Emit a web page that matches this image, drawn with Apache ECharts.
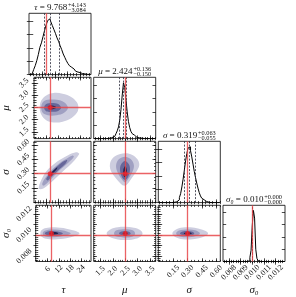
<!DOCTYPE html>
<html><head><meta charset="utf-8">
<script src="https://cdn.jsdelivr.net/npm/echarts@6/dist/echarts.min.js"></script>
<style>html,body{margin:0;padding:0;background:#fff}#c{width:296px;height:297px}</style>
</head><body><div id="c"></div>
<script>
// ---------------- data ----------------
const tauRange = [-0.5, 29.4];
const muRange = [1.23, 3.73];
const sigRange = [-0.007, 0.643];
const sig0Range = [0.0075, 0.0128];

const tauTicks = [6, 12, 18, 24];
const muTicks = [1.5, 2.0, 2.5, 3.0, 3.5];
const sigTicks = [0.15, 0.30, 0.45, 0.60];
const sig0Ticks = [0.008, 0.009, 0.010, 0.011, 0.012];
const tauTickLabels = ['6', '12', '18', '24'];
const muTickLabels = ['1.5', '2.0', '2.5', '3.0', '3.5'];
const sigTickLabels = ['0.15', '0.30', '0.45', '0.60'];
const sig0TickLabels = ['0.008', '0.009', '0.010', '0.011', '0.012'];
const minorSteps = [1.5, 0.1, 0.0375, 0.0002];

const truths = [8.0, 2.5, 0.30, 0.01015];

const titleSymbols = ['τ', 'μ', 'σ', 'σ₀'];
const titleMedians = ['9.768', '2.424', '0.319', '0.010'];
const titleUpper = ['+4.143', '+0.136', '+0.063', '+0.000'];
const titleLower = ['−3.084', '−0.150', '−0.055', '−0.000'];
const quantTau = [6.684, 9.768, 13.911];
const quantMu = [2.274, 2.424, 2.560];
const quantSig = [0.264, 0.319, 0.382];
const quantSig0 = [0.00995, 0.01012, 0.01028];

// histograms: first bin centre, bin width, heights
const tauHistStart = -0.125, tauHistWidth = 0.75;
const tauHist = [0, 1, 3, 9, 16, 25, 36, 49, 57, 68, 79, 89, 97, 100, 95, 88, 81, 74, 66, 60, 52, 45, 37, 31, 25, 20, 16, 13, 10, 8, 6, 4.5, 3.5, 2.5, 1.8, 1.2, 0.8, 0.5, 0.3, 0.1];
const muHistStart = 1.255, muHistWidth = 0.05;
const muHist = [0,0,0,0,0,0,0,0,0,0,0, 0.3, 0.6, 1, 1.5, 2.5, 4, 6, 9, 14, 21, 33, 52, 78, 100, 92, 70, 48, 31, 20, 13, 9, 6, 4, 3, 2, 1.4, 1, 0.6, 0.4, 0.2, 0,0,0,0,0,0,0,0,0];
const sigHistStart = -0.0005, sigHistWidth = 0.013;
const sigHist = [0,0,0,0,0,0,0,0,0,0,0,0, 0.3, 0.8, 1.5, 3, 5, 9, 16, 28, 42, 58, 75, 88, 98, 100, 93, 82, 69, 56, 45, 35, 26, 18, 12, 8, 5, 3.5, 2, 1.2, 0.6, 0.3, 0,0,0,0,0,0,0,0];
const sig0HistStart = 0.00755, sig0HistWidth = 0.0001;
const sig0Hist = [0,0,0,0,0,0,0,0,0,0, 0,0,0,0,0,0,0,0,0,0, 0, 0.3, 1.5, 8, 22, 70, 100, 85, 24, 6, 1.5, 0.4, 0,0,0,0,0,0,0,0, 0,0,0,0,0,0,0,0,0,0, 0,0,0];

// contour polygons (outer -> inner) in data units
const muTauLevels = [
  [[2.5,2.49],[3.3,2.78],[5.9,2.99],[9.8,3.09],[14.5,3.06],[19.2,2.92],[22.0,2.71],[22.8,2.49],[22.0,2.28],[19.2,2.07],[14.5,1.92],[9.8,1.89],[5.9,1.98],[3.3,2.21]],
  [[3.3,2.49],[4.1,2.71],[6.7,2.81],[11.4,2.81],[15.3,2.71],[17.3,2.49],[15.3,2.28],[11.4,2.18],[6.7,2.18],[4.1,2.28]],
  [[4.8,2.49],[5.9,2.64],[9.0,2.68],[12.2,2.64],[13.7,2.49],[12.2,2.36],[9.0,2.32],[5.9,2.35]],
  [[6.7,2.52],[8.3,2.58],[10.6,2.55],[11.1,2.49],[9.8,2.44],[7.5,2.44]]
];
const sigTauLevels = [
  [[2.0,0.154],[2.8,0.209],[5.1,0.300],[8.3,0.372],[12.9,0.444],[17.6,0.499],[21.5,0.528],[23.2,0.513],[22.3,0.480],[19.2,0.408],[15.3,0.336],[11.4,0.263],[7.5,0.191],[4.4,0.143],[2.3,0.137]],
  [[3.9,0.202],[6.7,0.289],[10.6,0.372],[15.3,0.444],[19.5,0.491],[20.4,0.480],[17.6,0.419],[12.9,0.336],[9.0,0.253],[5.9,0.191],[4.2,0.173]],
  [[5.9,0.245],[8.3,0.310],[11.4,0.372],[15.3,0.433],[16.9,0.444],[16.1,0.408],[12.2,0.336],[9.0,0.274],[6.7,0.227]],
  [[8.3,0.300],[9.8,0.336],[11.7,0.369],[11.4,0.347],[9.8,0.311],[8.8,0.289]]
];
const sigMuLevels = [
  [[2.492,0.517],[2.788,0.499],[2.988,0.455],[3.068,0.397],[2.988,0.336],[2.788,0.263],[2.588,0.191],[2.452,0.173],[2.292,0.202],[2.052,0.274],[1.892,0.354],[1.92,0.433],[2.12,0.491]],
  [[2.492,0.480],[2.72,0.455],[2.852,0.390],[2.788,0.317],[2.628,0.245],[2.492,0.208],[2.348,0.245],[2.188,0.317],[2.132,0.390],[2.252,0.455]],
  [[2.492,0.433],[2.652,0.397],[2.692,0.336],[2.612,0.263],[2.492,0.235],[2.372,0.263],[2.292,0.336],[2.332,0.397]],
  [[2.508,0.382],[2.572,0.336],[2.548,0.281],[2.48,0.263],[2.428,0.289],[2.428,0.347]]
];
const sig0TauLevels = [
  [[2.0,0.01015],[2.6,0.01045],[5.1,0.01066],[9.8,0.01072],[16.1,0.0106],[20.7,0.01039],[23.2,0.01015],[20.7,0.00991],[16.1,0.0097],[9.8,0.00958],[5.1,0.00964],[2.6,0.00985]],
  [[3.3,0.01015],[4.4,0.01039],[8.3,0.01051],[13.7,0.01045],[18.4,0.01015],[13.7,0.00988],[8.3,0.00979],[4.4,0.00988]],
  [[4.4,0.01015],[6.0,0.01033],[9.8,0.01036],[13.0,0.01027],[14.2,0.01015],[13.0,0.01003],[9.8,0.00994],[6.0,0.00997]],
  [[6.7,0.01015],[8.3,0.01027],[11.1,0.01024],[11.7,0.01015],[10.6,0.01006],[8.3,0.01003]]
];
const sig0MuLevels = [
  [[1.75,0.01015],[1.9,0.01052],[2.2,0.01072],[2.5,0.01077],[2.85,0.01069],[3.1,0.01048],[3.2,0.01015],[3.1,0.00982],[2.85,0.00961],[2.5,0.00953],[2.2,0.00958],[1.9,0.00978]],
  [[2.05,0.01015],[2.15,0.01045],[2.5,0.01055],[2.8,0.01045],[2.9,0.01015],[2.8,0.00985],[2.5,0.00975],[2.15,0.00985]],
  [[2.25,0.01015],[2.35,0.01032],[2.5,0.01038],[2.65,0.0103],[2.72,0.01015],[2.65,0.01],[2.5,0.00993],[2.35,0.01]],
  [[2.4,0.01015],[2.47,0.01025],[2.57,0.01024],[2.6,0.01015],[2.55,0.01006],[2.45,0.01006]]
];
const sig0SigLevels = [
  [[0.14,0.01015],[0.17,0.01048],[0.25,0.0107],[0.33,0.01072],[0.42,0.0106],[0.49,0.01038],[0.515,0.01015],[0.49,0.00992],[0.42,0.0097],[0.33,0.00958],[0.25,0.0096],[0.17,0.00982]],
  [[0.18,0.01015],[0.21,0.01042],[0.3,0.01052],[0.38,0.01045],[0.43,0.01015],[0.38,0.00988],[0.3,0.00978],[0.21,0.00988]],
  [[0.22,0.01015],[0.25,0.01032],[0.3,0.01037],[0.35,0.0103],[0.37,0.01015],[0.35,0.01],[0.3,0.00993],[0.25,0.01]],
  [[0.26,0.01015],[0.29,0.01025],[0.33,0.01023],[0.345,0.01015],[0.32,0.01007],[0.28,0.01006]]
];

// ---------------- assembly ----------------
const ranges = [tauRange, muRange, sigRange, sig0Range];
const ticks = [tauTicks, muTicks, sigTicks, sig0Ticks];
const tickLabels = [tauTickLabels, muTickLabels, sigTickLabels, sig0TickLabels];
const hists = [[tauHistStart, tauHistWidth, tauHist], [muHistStart, muHistWidth, muHist], [sigHistStart, sigHistWidth, sigHist], [sig0HistStart, sig0HistWidth, sig0Hist]];
const quants = [quantTau, quantMu, quantSig, quantSig0];
const levels2d = {'1,0': muTauLevels, '2,0': sigTauLevels, '2,1': sigMuLevels, '3,0': sig0TauLevels, '3,1': sig0MuLevels, '3,2': sig0SigLevels};
const names = ['τ', 'μ', 'σ', 'σ₀'];

const FONT = '"Liberation Serif", "DejaVu Serif", serif';
const COL_LEFT = [29, 93.7, 158.3, 223];
const ROW_TOP = [13.3, 77.3, 141.3, 205.3];
const PW = 62, PH = 61.3;
const xMargin = [7.5, 9.5, 10, 11];
const yMargin = [10, 10, 10.5, 11.5];
const LEVEL_COLORS = ['#cdcddf', '#a0a0c2', '#67679a', '#22224e'];
const RED = '#e8474a';
const HIST_Y = [0, 110];
const histYTicks = [0, 24, 48, 72, 96];

function minorValues(k) {
  const r = ranges[k], t = ticks[k], s = minorSteps[k], out = [];
  for (let v = t[0]; v >= r[0] - 1e-12; v -= s) out.push(v);
  for (let v = t[0] + s; v <= r[1] + 1e-12; v += s) out.push(v);
  return out;
}

const grids = [], xAxes = [], yAxes = [], series = [];
const panels = [];
for (let r = 0; r < 4; r++) for (let c = 0; c <= r; c++) panels.push({r, c});

function axisCommon(gi, pos, range, values, minor) {
  return {
    type: 'value', gridIndex: gi, position: pos, min: range[0], max: range[1],
    axisLine: {show: false}, splitLine: {show: false},
    axisTick: {show: true, inside: true, length: minor ? 1.6 : 3.2, customValues: values,
      lineStyle: {color: '#000', width: 0.7}},
    axisLabel: {show: false}
  };
}
function labelCfg(k, margin) {
  return {show: true, customValues: ticks[k], rotate: 45, align: 'center', verticalAlign: 'middle',
    margin, fontFamily: FONT, fontSize: 8, color: '#111', hideOverlap: false,
    showMinLabel: true, showMaxLabel: true, interval: 0,
    formatter: (v) => { const i = ticks[k].findIndex(t => Math.abs(t - v) < 1e-9); return i >= 0 ? tickLabels[k][i] : ''; }};
}

panels.forEach((p, gi) => {
  const {r, c} = p;
  grids.push({left: COL_LEFT[c], top: ROW_TOP[r], width: PW, height: PH, show: true,
    borderColor: '#000', borderWidth: 0.8, containLabel: false});
  const xr = ranges[c];
  const xb = axisCommon(gi, 'bottom', xr, ticks[c], false);
  if (r === 3) {
    xb.axisLabel = labelCfg(c, xMargin[c]);
    xb.name = names[c]; xb.nameLocation = 'middle'; xb.nameGap = 23.5;
    xb.nameTextStyle = {fontFamily: FONT, fontStyle: 'italic', fontSize: 11, color: '#111'};
  }
  xAxes.push(xb);
  xAxes.push(axisCommon(gi, 'bottom', xr, minorValues(c), true));
  xAxes.push(axisCommon(gi, 'top', xr, ticks[c], false));
  xAxes.push(axisCommon(gi, 'top', xr, minorValues(c), true));
  if (r === c) {
    yAxes.push(axisCommon(gi, 'left', HIST_Y, histYTicks, false));
    yAxes.push(axisCommon(gi, 'left', HIST_Y, [], true));
    yAxes.push(axisCommon(gi, 'right', HIST_Y, histYTicks, false));
    yAxes.push(axisCommon(gi, 'right', HIST_Y, [], true));
  } else {
    const yr = ranges[r];
    const yl = axisCommon(gi, 'left', yr, ticks[r], false);
    if (c === 0) {
      yl.axisLabel = labelCfg(r, yMargin[r]);
      yl.name = names[r]; yl.nameLocation = 'middle'; yl.nameGap = 22; yl.nameRotate = 90;
      yl.nameTextStyle = {fontFamily: FONT, fontStyle: 'italic', fontSize: 11, color: '#111'};
    }
    yAxes.push(yl);
    yAxes.push(axisCommon(gi, 'left', yr, minorValues(r), true));
    yAxes.push(axisCommon(gi, 'right', yr, ticks[r], false));
    yAxes.push(axisCommon(gi, 'right', yr, minorValues(r), true));
  }
  const xi = gi * 4, yi = gi * 4;
  if (r === c) {
    const [st, w, h] = hists[c];
    const data = h.map((v, i) => [st + i * w, v]);
    const ml = quants[c].map(q => ({xAxis: q, lineStyle: {color: '#2a2a3a', width: 0.8, type: [2, 1.5]}}));
    ml.push({xAxis: truths[c], lineStyle: {color: RED, width: 1.3, type: 'solid', opacity: 0.85}});
    series.push({type: 'line', xAxisIndex: xi, yAxisIndex: yi, data, step: 'middle', symbol: 'none',
      lineStyle: {color: '#000', width: 1}, silent: true, clip: true,
      markLine: {silent: true, symbol: ['none', 'none'], label: {show: false}, data: ml, animation: false}});
  } else {
    const polys = levels2d[r + ',' + c];
    series.push({type: 'custom', xAxisIndex: xi, yAxisIndex: yi, clip: true, silent: true,
      data: polys.map((pl, i) => [pl[0][0], pl[0][1], i]),
      renderItem: (params, api) => {
        const li = api.value(2);
        const pts = polys[li].map(pt => api.coord(pt));
        return {type: 'polygon', shape: {points: pts, smooth: 0.35}, style: {fill: LEVEL_COLORS[li]}};
      }});
    series.push({type: 'scatter', xAxisIndex: xi, yAxisIndex: yi, data: [[truths[c], truths[r]]],
      symbolSize: 5, itemStyle: {color: '#e8202a'}, silent: true, z: 5,
      markLine: {silent: true, symbol: ['none', 'none'], label: {show: false}, animation: false,
        lineStyle: {color: RED, width: 1.3, type: 'solid', opacity: 0.85},
        data: [{xAxis: truths[c]}, {yAxis: truths[r]}]}});
  }
});

// titles
const ctx = document.createElement('canvas').getContext('2d');
function measure(t, font) { ctx.font = font; return ctx.measureText(t).width; }
const graphics = [];
for (let k = 0; k < 4; k++) {
  const fI = 'italic 9px ' + FONT, fN = '9px ' + FONT, fS = '6.3px ' + FONT;
  const w1 = measure(titleSymbols[k], fI), w2 = measure(' = ' + titleMedians[k], fN);
  const ws = Math.max(measure(titleUpper[k], fS), measure(titleLower[k], fS));
  const total = w1 + w2 + 0.8 + ws;
  const cx = COL_LEFT[k] + PW / 2, cy = ROW_TOP[k] - 5.5;
  const x0 = cx - total / 2;
  graphics.push({type: 'text', x: x0, y: cy, style: {text: titleSymbols[k], font: fI, fill: '#111', align: 'left', verticalAlign: 'middle'}});
  graphics.push({type: 'text', x: x0 + w1, y: cy, style: {text: ' = ' + titleMedians[k], font: fN, fill: '#111', align: 'left', verticalAlign: 'middle'}});
  graphics.push({type: 'text', x: x0 + w1 + w2 + 0.8, y: cy - 2.8, style: {text: titleUpper[k], font: fS, fill: '#111', align: 'left', verticalAlign: 'middle'}});
  graphics.push({type: 'text', x: x0 + w1 + w2 + 0.8, y: cy + 3.0, style: {text: titleLower[k], font: fS, fill: '#111', align: 'left', verticalAlign: 'middle'}});
}

const chart = echarts.init(document.getElementById('c'), null, {renderer: 'canvas'});
chart.setOption({animation: false, backgroundColor: '#fff', grid: grids, xAxis: xAxes, yAxis: yAxes, series, graphic: graphics});
</script></body></html>
